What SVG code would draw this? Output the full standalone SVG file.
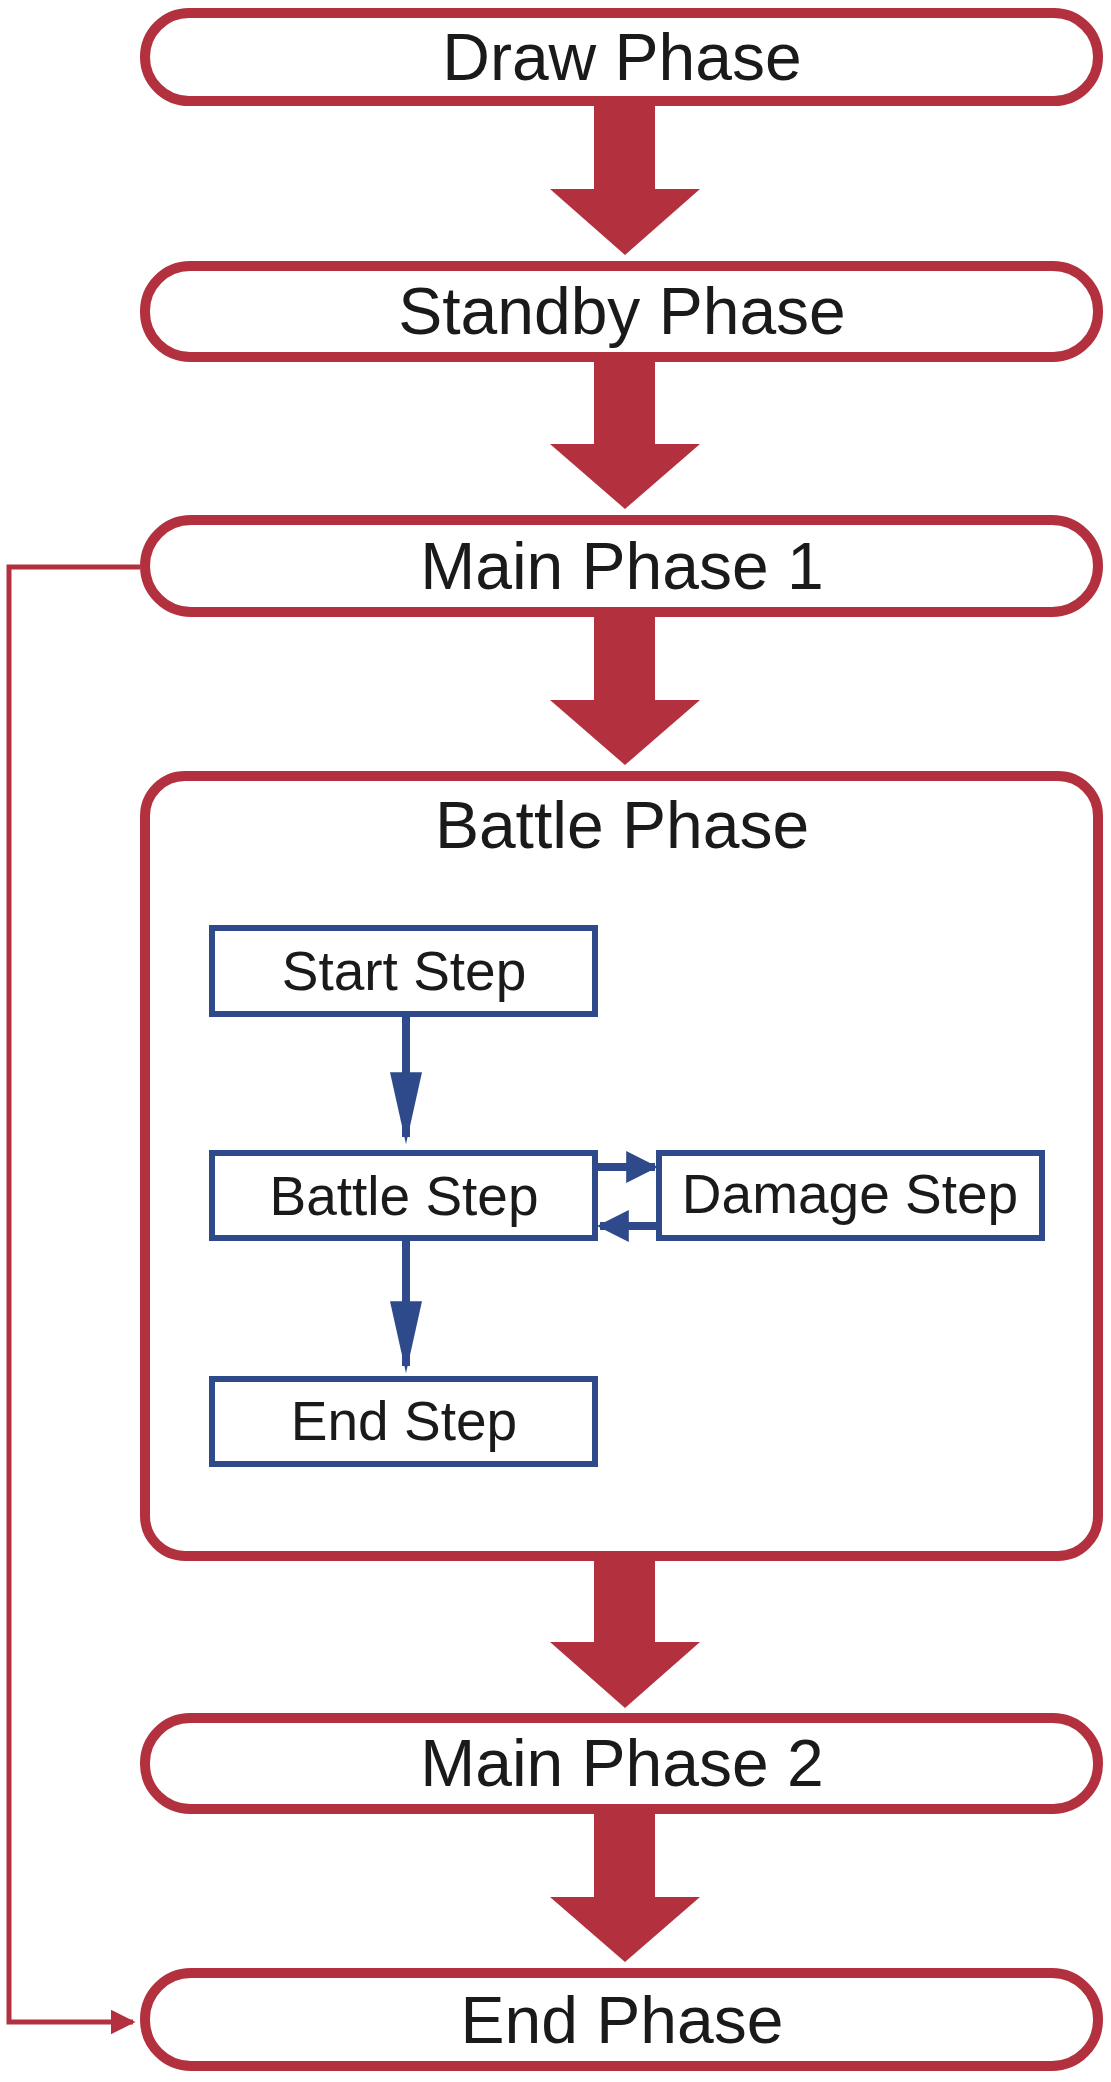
<svg xmlns="http://www.w3.org/2000/svg" width="1111" height="2082" viewBox="0 0 1111 2082">
<defs>
<style>
.ph{fill:#fff;stroke:#b3313f;stroke-width:10}
.st{fill:#fff;stroke:#2f4a8a;stroke-width:6}
.big{fill:#b3313f}
.t{font-family:"Liberation Sans",Arial,sans-serif;fill:#1a1a1a;text-anchor:middle;dominant-baseline:central}
.tp{font-size:66px}
.ts{font-size:55px}
.bl{stroke:#2f4a8a;stroke-width:8;fill:none}
</style>
<marker id="bv" viewBox="0 0 10 10" refX="9" refY="5" markerWidth="9" markerHeight="4" markerUnits="strokeWidth" orient="auto" preserveAspectRatio="none"><path d="M0,0L10,5L0,10z" fill="#2f4a8a"/></marker>
<marker id="ba" viewBox="0 0 10 10" refX="9" refY="5" markerWidth="4" markerHeight="4" markerUnits="strokeWidth" orient="auto"><path d="M0,0L10,5L0,10z" fill="#2f4a8a"/></marker>
<marker id="ra" viewBox="0 0 10 10" refX="9" refY="5" markerWidth="5" markerHeight="5" markerUnits="strokeWidth" orient="auto"><path d="M0,0L10,5L0,10z" fill="#b3313f"/></marker>
</defs>
<g id="draw"><rect class="ph" x="145" y="13" width="953" height="88" rx="44"/><text class="t tp" x="622" y="57">Draw Phase</text></g>
<g id="standby"><rect class="ph" x="145" y="266" width="953" height="91" rx="45"/><text class="t tp" x="622" y="311">Standby Phase</text></g>
<g id="main1"><rect class="ph" x="145" y="520" width="953" height="92" rx="46"/><text class="t tp" x="622" y="566">Main Phase 1</text></g>
<g id="battle"><rect class="ph" x="145" y="776" width="953" height="780" rx="40"/><text class="t tp" x="622" y="825">Battle Phase</text></g>
<g id="start"><rect class="st" x="212" y="928" width="383" height="86"/><text class="t ts" x="404" y="971">Start Step</text></g>
<g id="battlestep"><rect class="st" x="212" y="1153" width="383" height="85"/><text class="t ts" x="404" y="1196">Battle Step</text></g>
<g id="damage"><rect class="st" x="659" y="1153" width="383" height="85"/><text class="t ts" x="850" y="1194">Damage Step</text></g>
<g id="endstep"><rect class="st" x="212" y="1379" width="383" height="85"/><text class="t ts" x="404" y="1421">End Step</text></g>
<g id="main2"><rect class="ph" x="145" y="1718" width="953" height="91" rx="45"/><text class="t tp" x="622" y="1763">Main Phase 2</text></g>
<g id="end"><rect class="ph" x="145" y="1973" width="953" height="93" rx="46"/><text class="t tp" x="622" y="2020">End Phase</text></g>
<g id="connectors">
<path class="big" d="M594,106H655V189H700L625,255L550,189H594Z"/>
<path class="big" d="M594,362H655V444H700L625,509L550,444H594Z"/>
<path class="big" d="M594,617H655V700H700L625,765L550,700H594Z"/>
<path class="big" d="M594,1561H655V1642H700L625,1708L550,1642H594Z"/>
<path class="big" d="M594,1814H655V1897H700L625,1962L550,1897H594Z"/>
<path d="M140,567H9V2022H133" fill="none" stroke="#b3313f" stroke-width="5" marker-end="url(#ra)"/>
<path class="bl" d="M406,1017V1137" marker-end="url(#bv)"/>
<path class="bl" d="M406,1241V1366" marker-end="url(#bv)"/>
<path class="bl" d="M598,1167H655" marker-end="url(#ba)"/>
<path class="bl" d="M656,1226H600" marker-end="url(#ba)"/>
</g>
</svg>
